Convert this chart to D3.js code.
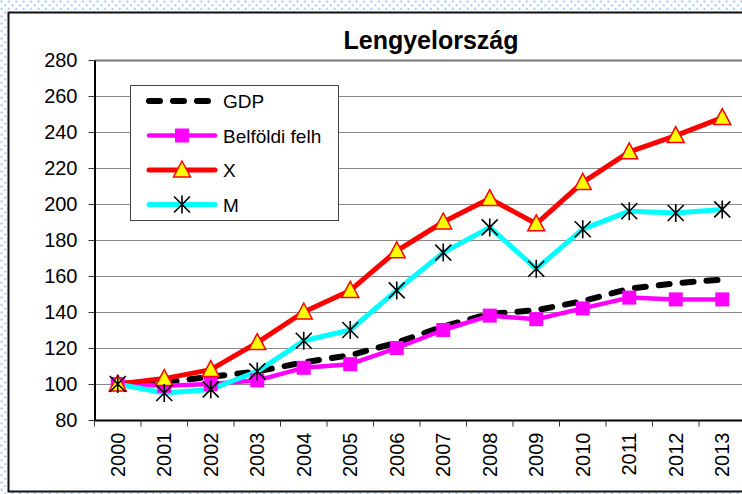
<!DOCTYPE html>
<html>
<head>
<meta charset="utf-8">
<script src="https://cdn.jsdelivr.net/npm/d3@7"></script>
<style>
  body { margin: 0; background: #fff; }
  svg { display: block; font-family: "Liberation Sans", Arial, sans-serif; }
</style>
</head>
<body>
<div id="chart"></div>
<script>
// data
const years = ['2000', '2001', '2002', '2003', '2004', '2005', '2006', '2007', '2008', '2009', '2010', '2011', '2012', '2013'];
const gdp = [100, 101, 104, 107, 112, 116, 123, 132, 139, 141, 146, 153, 156, 158];
const belfoldi = [100, 99, 100, 102, 109, 111, 120, 130, 138, 136, 142, 148, 147, 147];
const exportX = [100, 103, 108, 123, 140, 152, 174, 190, 203, 189, 212, 229, 238, 248];
const importM = [100, 95, 97, 107, 124, 130, 152, 173, 187, 164, 186, 196, 195, 197];
const yTicks = [80, 100, 120, 140, 160, 180, 200, 220, 240, 260, 280];

const width = 742;
const height = 494;

const series = [
  { name: 'GDP', values: gdp, color: '#000', dash: '11,13', marker: 'none', width: 6 },
  { name: 'Belföldi felh', values: belfoldi, color: '#ff00ff', marker: 'square', width: 4.5 },
  { name: 'X', values: exportX, color: '#ff0000', marker: 'triangle', width: 5 },
  { name: 'M', values: importM, color: '#00ffff', marker: 'star', width: 5 }
];

const svg = d3.select('#chart').append('svg')
  .attr('width', width)
  .attr('height', height);

// dotted light blue background outside the chart frame
const pat = svg.append('defs').append('pattern')
  .attr('id', 'dots')
  .attr('width', 7.4).attr('height', 7.4)
  .attr('patternUnits', 'userSpaceOnUse');
pat.append('rect').attr('width', 7.4).attr('height', 7.4).attr('fill', '#fff');
pat.append('circle').attr('cx', 1.5).attr('cy', 1.5).attr('r', 1.1).attr('fill', '#99c2f2');
pat.append('circle').attr('cx', 5.2).attr('cy', 5.2).attr('r', 1.1).attr('fill', '#99c2f2');
svg.append('rect').attr('width', width).attr('height', height).attr('fill', 'url(#dots)');

// chart frame
svg.append('rect')
  .attr('x', 8.5).attr('y', 12.5)
  .attr('width', 760).attr('height', 479)
  .attr('fill', '#fff')
  .attr('stroke', '#111')
  .attr('stroke-width', 2);

const x = d3.scaleBand().domain(years).range([94.5, 94.5 + 46.5 * years.length]);
const y = d3.scaleLinear().domain([80, 280]).range([420, 60]);

// gridlines
svg.append('g')
  .selectAll('line')
  .data(yTicks.filter(d => d > 80))
  .join('line')
  .attr('x1', 94.5).attr('x2', width)
  .attr('y1', d => Math.round(y(d)) + 0.5).attr('y2', d => Math.round(y(d)) + 0.5)
  .attr('stroke', d => d === 280 ? '#777' : '#8a8a8a')
  .attr('stroke-width', d => d === 280 ? 2 : 1.2);

// y axis
const yAxis = svg.append('g')
  .attr('transform', 'translate(94.5,0)')
  .call(d3.axisLeft(y).tickValues(yTicks).tickSize(6).tickPadding(11).tickSizeOuter(0));
yAxis.select('.domain').attr('stroke', '#000').attr('stroke-width', 2);
yAxis.selectAll('.tick line').attr('stroke', '#333');
yAxis.selectAll('text').style('font-size', '20px').attr('fill', '#000');

// x axis with ticks between categories
const xAxis = svg.append('g')
  .attr('transform', 'translate(0,420.5)');
xAxis.append('line')
  .attr('x1', 94.5).attr('x2', width)
  .attr('stroke', '#000').attr('stroke-width', 2);
xAxis.selectAll('.sep')
  .data(years)
  .join('line')
  .attr('class', 'sep')
  .attr('x1', d => x(d)).attr('x2', d => x(d))
  .attr('y1', 0).attr('y2', 6)
  .attr('stroke', '#333');
xAxis.selectAll('text')
  .data(years)
  .join('text')
  .attr('transform', d => `translate(${x(d) + x.bandwidth() / 2 + 7},12) rotate(-90)`)
  .attr('text-anchor', 'end')
  .style('font-size', '20px')
  .text(d => d);

// title
svg.append('text')
  .attr('x', 431).attr('y', 49)
  .attr('text-anchor', 'middle')
  .style('font-size', '25px')
  .style('font-weight', 'bold')
  .text('Lengyelország');

const cx = d => x(d) + x.bandwidth() / 2;

function drawMarker(g, type, px, py) {
  if (type === 'square') {
    g.append('rect')
      .attr('x', px - 7).attr('y', py - 7)
      .attr('width', 14).attr('height', 14)
      .attr('fill', '#ff00ff');
  } else if (type === 'triangle') {
    g.append('path')
      .attr('d', `M${px},${py - 9}L${px + 8.5},${py + 7}L${px - 8.5},${py + 7}Z`)
      .attr('fill', '#ffff00')
      .attr('stroke', '#ff0000')
      .attr('stroke-width', 1.5);
  } else if (type === 'star') {
    g.append('path')
      .attr('d', `M${px - 8},${py - 8}L${px + 8},${py + 8}M${px + 8},${py - 8}L${px - 8},${py + 8}M${px},${py - 9}L${px},${py + 9}`)
      .attr('stroke', '#000')
      .attr('stroke-width', 1.6)
      .attr('fill', 'none');
  }
}

const line = d3.line().x((d, i) => cx(years[i])).y(d => y(d));

// lines
series.forEach(s => {
  svg.append('path')
    .datum(s.values)
    .attr('d', line)
    .attr('fill', 'none')
    .attr('stroke', s.color)
    .attr('stroke-width', s.width)
    .attr('stroke-linejoin', 'round')
    .attr('stroke-linecap', s.dash ? 'round' : 'butt')
    .attr('stroke-dasharray', s.dash || null);
});

// markers
series.forEach(s => {
  const g = svg.append('g');
  s.values.forEach((v, i) => drawMarker(g, s.marker, cx(years[i]), y(v)));
});

// legend
const legend = svg.append('g');
legend.append('rect')
  .attr('x', 130.5).attr('y', 85.5)
  .attr('width', 208).attr('height', 135)
  .attr('fill', '#fff')
  .attr('stroke', '#444')
  .attr('stroke-width', 1);

series.forEach((s, i) => {
  const ly = 101 + i * 34.5;
  legend.append('line')
    .attr('x1', 149).attr('x2', 215)
    .attr('y1', ly).attr('y2', ly)
    .attr('stroke', s.color)
    .attr('stroke-width', s.width)
    .attr('stroke-linecap', 'round')
    .attr('stroke-dasharray', s.dash || null);
  drawMarker(legend, s.marker, 182, ly);
  legend.append('text')
    .attr('x', 223).attr('y', ly + 7)
    .style('font-size', '19px')
    .text(s.name);
});
</script>
</body>
</html>
